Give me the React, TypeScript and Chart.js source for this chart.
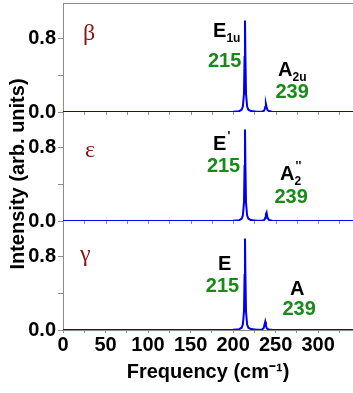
import React, { useEffect, useRef } from 'react';
import { Chart, registerables } from 'chart.js';

Chart.register(...registerables);

// ---- data ----
const freq = [0, 200, 207, 210, 211.5, 212.8, 213.5, 214, 214.5, 215.2, 216.5, 218, 221, 228, 234, 236, 237, 237.8, 238.6, 239.4, 240.4, 242, 246, 341];
const intensityBeta = [0, 0.002, 0.008, 0.025, 0.06, 0.2, 0.6, 1.0, 0.6, 0.2, 0.06, 0.025, 0.01, 0.004, 0.005, 0.01, 0.025, 0.055, 0.088, 0.055, 0.022, 0.01, 0.004, 0];
const intensityEps = [0, 0.002, 0.008, 0.025, 0.06, 0.2, 0.6, 1.0, 0.6, 0.2, 0.06, 0.025, 0.01, 0.004, 0.005, 0.008, 0.015, 0.035, 0.075, 0.093, 0.04, 0.012, 0.004, 0];
const intensityGam = [0, 0.002, 0.008, 0.025, 0.06, 0.2, 0.6, 1.0, 0.6, 0.2, 0.06, 0.025, 0.01, 0.004, 0.006, 0.02, 0.06, 0.09, 0.05, 0.025, 0.012, 0.006, 0.003, 0];

const phaseNames = ['β', 'ε', 'γ'];
const peakFreqLabels = ['215', '239'];
const modeMain = [['E', 'A'], ['E', 'A'], ['E', 'A']];
const modeSub = [['1u', '2u'], ['', '2'], ['', '']];
const modeSup = [['', ''], ["'", "''"], ['', '']];

const xTickValues = [0, 25, 50, 75, 100, 125, 150, 175, 200, 225, 250, 275, 300, 325];
const yTickValues = [0, 0.4, 0.8];
const xTitle = 'Frequency (cm⁻¹)';
const yTitle = 'Intensity (arb. units)';

// ---- layout / style (not data) ----
const FONT = 'Liberation Sans, Arial, sans-serif';
const AXIS_GRAY = '#8c8c8c';
const LINE_BLUE = '#0000f0';
const GREEN = '#188a18';
const DARK_RED = '#8b1414';

const greekPos = [[23.5, 0.79], [25.9, 0.70], [20, 0.75]];
const modePos = [[[176.5, 0.82], [252.9, 0.395]], [[176.5, 0.78], [255.3, 0.45]], [[182.4, 0.66], [267, 0.385]]];
const freqPos = [[[190, 0.49], [269.4, 0.154]], [[188.8, 0.53], [268.2, 0.2]], [[187.6, 0.41], [277.6, 0.165]]];

const panelAxes = ['yB', 'yE', 'yG'];

function makeY() {
  return {
    type: 'linear',
    position: 'left',
    stack: 'panels',
    stackWeight: 1,
    min: 0,
    max: 1.19,
    afterBuildTicks: (s: any) => {
      s.ticks = yTickValues.map((v) => ({ value: v }));
    },
    afterFit: (s: any) => {
      s.width = 63;
      s.paddingTop = 0;
      s.paddingBottom = 0;
    },
    ticks: {
      callback: (v: number) => (v === 0.4 ? '' : v.toFixed(1)),
      font: { family: FONT, size: 20, weight: 'bold' },
      color: '#000',
      padding: 2,
      autoSkip: false,
    },
    grid: { drawOnChartArea: false, drawTicks: true, tickLength: 5, color: AXIS_GRAY, tickColor: AXIS_GRAY },
    border: { display: true, color: AXIS_GRAY, width: 1 },
  };
}

const annotPlugin = {
  id: 'annot',
  beforeDatasetsDraw(chart: any) {
    const { ctx, chartArea, scales } = chart;
    ctx.save();
    ctx.strokeStyle = AXIS_GRAY;
    ctx.lineWidth = 1;
    ctx.beginPath();
    ctx.moveTo(chartArea.left, chartArea.top + 0.5);
    ctx.lineTo(chartArea.right, chartArea.top + 0.5);
    // x ticks under upper panels
    ['yB', 'yE'].forEach((id) => {
      const y0 = Math.round(scales[id].getPixelForValue(0));
      xTickValues.forEach((v) => {
        if (v === 0) return;
        const px = Math.round(scales.x.getPixelForValue(v)) + 0.5;
        ctx.moveTo(px, y0);
        ctx.lineTo(px, y0 + 3);
      });
    });
    ctx.stroke();
    ctx.restore();
  },
  afterDatasetsDraw(chart: any) {
    const { ctx, scales } = chart;
    const xs = scales.x;
    ctx.save();
    // y title
    ctx.save();
    ctx.translate(18, 174);
    ctx.rotate(-Math.PI / 2);
    ctx.font = `bold 20px ${FONT}`;
    ctx.fillStyle = '#000';
    ctx.textAlign = 'center';
    ctx.textBaseline = 'middle';
    ctx.fillText(yTitle, 0, 0);
    ctx.restore();

    panelAxes.forEach((id, p) => {
      const ys = scales[id];
      // greek label
      ctx.font = `24px "Liberation Serif", "DejaVu Serif", serif`;
      ctx.fillStyle = DARK_RED;
      ctx.textAlign = 'left';
      ctx.textBaseline = 'alphabetic';
      ctx.fillText(phaseNames[p], xs.getPixelForValue(greekPos[p][0]), ys.getPixelForValue(greekPos[p][1]));
      // mode labels
      for (let k = 0; k < 2; k++) {
        const mx = xs.getPixelForValue(modePos[p][k][0]);
        const my = ys.getPixelForValue(modePos[p][k][1]);
        ctx.fillStyle = '#000';
        ctx.textAlign = 'left';
        ctx.font = `bold 20px ${FONT}`;
        ctx.fillText(modeMain[p][k], mx, my);
        const w = ctx.measureText(modeMain[p][k]).width;
        ctx.font = `bold 12px ${FONT}`;
        if (modeSub[p][k]) ctx.fillText(modeSub[p][k], mx + w, my + 5);
        if (modeSup[p][k]) ctx.fillText(modeSup[p][k], mx + w + 1, my - 10);
        // frequency labels
        ctx.font = `bold 20px ${FONT}`;
        ctx.fillStyle = GREEN;
        ctx.textAlign = 'center';
        ctx.fillText(peakFreqLabels[k], xs.getPixelForValue(freqPos[p][k][0]), ys.getPixelForValue(freqPos[p][k][1]));
      }
    });
    ctx.restore();
  },
};

export default function App() {
  const ref = useRef<HTMLCanvasElement | null>(null);
  useEffect(() => {
    if (!ref.current) return;
    Chart.defaults.font.family = FONT;
    const mk = (vals: number[], axis: string) => ({
      data: freq.map((f, i) => ({ x: f, y: vals[i] })),
      yAxisID: axis,
      borderColor: LINE_BLUE,
      borderWidth: 2,
      pointRadius: 0,
      tension: 0,
      fill: false,
    });
    const chart = new Chart(ref.current, {
      type: 'line',
      data: {
        datasets: [mk(intensityBeta, 'yB'), mk(intensityEps, 'yE'), mk(intensityGam, 'yG')],
      },
      options: {
        animation: false,
        responsive: false,
        devicePixelRatio: 1,
        layout: { padding: { top: 3, right: 0, left: 0, bottom: 0 } },
        plugins: { legend: { display: false }, tooltip: { enabled: false } },
        scales: {
          x: {
            type: 'linear',
            min: 0,
            max: 341,
            afterBuildTicks: (s: any) => {
              s.ticks = xTickValues.map((v) => ({ value: v }));
            },
            afterFit: (s: any) => {
              s.height = 63;
              s.paddingLeft = 0;
              s.paddingRight = 0;
            },
            ticks: {
              callback: (v: number) => (v % 50 === 0 ? String(v) : ''),
              font: { family: FONT, size: 20, weight: 'bold' },
              color: '#000',
              padding: 0,
              maxRotation: 0,
              autoSkip: false,
            },
            grid: { drawOnChartArea: false, tickLength: 3, color: AXIS_GRAY, tickColor: AXIS_GRAY },
            border: { display: true, color: AXIS_GRAY },
            title: {
              display: true,
              text: xTitle,
              font: { family: FONT, size: 20, weight: 'bold' },
              color: '#000',
              padding: { top: 0, bottom: 9 },
            },
          },
          yG: makeY(),
          yE: makeY(),
          yB: makeY(),
        } as any,
      },
      plugins: [annotPlugin],
    } as any);
    return () => chart.destroy();
  }, []);
  return (
    <div style={{ position: 'absolute', left: 0, top: 0, width: 353, height: 393, background: '#fff' }}>
      <canvas ref={ref} width={353} height={393} />
    </div>
  );
}
